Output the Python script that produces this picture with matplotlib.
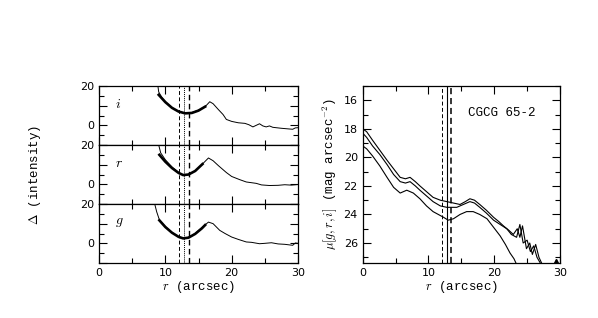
import numpy as np
import matplotlib
matplotlib.use("Agg")
import matplotlib.pyplot as plt
from matplotlib.ticker import MultipleLocator, FuncFormatter

plt.rcParams["mathtext.fontset"] = "cm"

# --- left panels: residual intensity profiles (thin) and fits (thick)
i_r = [8.8, 9.0, 9.5, 10, 11, 12, 13, 14, 15, 16, 16.7, 17.2, 18, 18.7, 19.2, 20, 21, 22,
       22.6, 23.2, 23.7, 24.2, 24.7, 25.2, 25.7, 26.2, 26.7, 27.5, 28.5, 29.2, 29.6, 30]
i_d = [22, 17, 14, 12, 9, 7, 6.2, 6.5, 7.7, 9.5, 12, 11, 8, 5.5, 3, 2, 1.3, 1,
       0.3, -0.8, 0, 0.8, -0.3, -0.8, -0.3, -1.0, -1.2, -1.5, -1.8, -2.0, -1.3, -1.2]
i_fit_r = [9.0, 10, 11, 12, 13, 14, 15, 16]
i_fit = [15.5, 11.8, 8.9, 7.0, 6.1, 6.3, 7.5, 9.5]

r_r = [9.0, 9.3, 10, 11, 12, 12.7, 13.5, 14.5, 15.5, 16.5, 17.2, 18, 19.2, 20, 21.2, 22.2,
       23.7, 24.5, 25.7, 27, 28, 29, 30]
r_d = [20, 16, 12.5, 8.8, 6.0, 4.7, 5.0, 6.8, 10, 13.4, 12, 9.5, 6, 4, 2.4, 1.2,
       0.5, -0.3, -0.6, -0.5, -0.2, -0.4, -0.1]
r_fit_r = [9.1, 10, 11, 12, 12.7, 13.5, 14.5, 15.6]
r_fit = [15, 11.5, 8.3, 5.8, 4.7, 5.0, 6.8, 10.3]

g_r = [8.4, 8.7, 9.1, 10, 11, 12, 12.7, 13.5, 14.5, 15.5, 16.5, 17.2, 18.2, 19, 20, 21,
       22.2, 23, 24.2, 25, 26, 27, 28, 29.2, 29.6, 30]
g_d = [20, 16, 12, 8.5, 5.5, 3.3, 2.5, 3.0, 5.0, 8, 10.8, 10, 6.6, 5, 3.2, 2,
       0.7, 0.5, -0.2, 0, 0.3, -0.3, -0.5, -1, 0.2, 0]
g_fit_r = [9.1, 10, 11, 12, 12.7, 13.5, 14.5, 15.5, 16]
g_fit = [11.7, 8.3, 5.4, 3.3, 2.5, 2.9, 4.8, 7.6, 9.3]

bands = ["i", "r", "g"]
band_data = [(i_r, i_d, i_fit_r, i_fit), (r_r, r_d, r_fit_r, r_fit), (g_r, g_d, g_fit_r, g_fit)]

# radii of vertical markers
r_lines = [12.1, 12.8, 13.5]

# --- right panel: surface brightness profiles
mu_i_r = [0, 0.6, 1.5, 2.6, 3.7, 4.7, 5.7, 6.5, 7.2, 8, 8.7, 9.7, 10.7, 11.8, 12.8, 13.8, 14.8,
          15.6, 16.3, 17, 17.8, 18.8, 19.9, 20.7, 21.4, 22.2, 22.9, 23.5, 23.9, 24.3, 24.9,
          25.4, 25.8, 26.3, 26.8, 27.2]
mu_i = [18.0, 18.2, 18.8, 19.5, 20.2, 20.8, 21.4, 21.5, 21.4, 21.7, 22.0, 22.4, 22.8, 23.0,
        23.1, 23.2, 23.3, 23.1, 22.9, 23.0, 23.3, 23.7, 24.2, 24.5, 24.8, 25.1, 25.4, 25.0,
        25.6, 24.8, 26.4, 26.0, 26.8, 26.1, 27.0, 27.4]
mu_r_r = [0, 0.6, 1.5, 2.6, 3.7, 4.7, 5.7, 6.5, 7.2, 8, 8.7, 9.7, 10.7, 11.8, 12.8, 13.8, 14.3,
          15.3, 16.3, 17, 17.8, 18.8, 19.9, 20.9, 21.9, 22.6, 23.4, 23.9, 24.4, 25, 25.5, 26,
          26.5, 27]
mu_r = [18.3, 18.6, 19.2, 19.8, 20.5, 21.2, 21.7, 21.8, 21.7, 22.0, 22.3, 22.7, 23.1, 23.4,
        23.5, 23.5, 23.5, 23.3, 23.1, 23.2, 23.5, 23.9, 24.4, 24.7, 25.0, 25.4, 25.6, 24.7,
        26.0, 25.8, 26.6, 26.2, 27.0, 27.4]
mu_g_r = [0, 0.6, 1.5, 2.6, 3.7, 4.7, 5.7, 6.7, 7.7, 8.7, 9.7, 10.7, 11.5, 12.3, 13.0, 13.8,
          14.8, 15.8, 16.8, 17.8, 18.9, 19.9, 20.9, 21.7, 22.4, 23.0, 23.4]
mu_g = [19.2, 19.4, 19.9, 20.6, 21.4, 22.1, 22.5, 22.3, 22.5, 22.9, 23.4, 23.8, 24.0, 24.2,
        24.4, 24.3, 24.0, 23.8, 23.8, 24.0, 24.3, 24.9, 25.5, 26.1, 26.7, 27.1, 27.5]

galaxy = "CGCG 65-2"

tick_font = "DejaVu Sans"
label_font = "Liberation Mono"
fs = 8


def style_axes(ax):
    ax.tick_params(which="both", direction="in", top=True, right=True, labelsize=fs,
                   width=0.8)
    ax.tick_params(which="major", length=6)
    ax.tick_params(which="minor", length=3.5)
    for lab in ax.get_xticklabels() + ax.get_yticklabels():
        lab.set_family(tick_font)
    for s in ax.spines.values():
        s.set_linewidth(0.9)


fig = plt.figure(figsize=(5.98, 3.18), dpi=100)

W, H = 598.0, 318.0
lx0, lx1 = 99, 298
tops = [86, 145, 204]
ph = 59

left_axes = []
for k, (band, (dr, dd, fr, fd)) in enumerate(zip(bands, band_data)):
    ax = fig.add_axes([lx0 / W, (H - tops[k] - ph) / H, (lx1 - lx0) / W, ph / H])
    ax.plot(dr, dd, color="black", lw=0.7)
    ax.plot(fr, fd, color="black", lw=1.9)
    ax.axvline(r_lines[0], color="black", lw=0.7, ls=(0, (4, 2.5)))
    ax.axvline(r_lines[1], color="black", lw=0.7, ls=(0, (1, 1)))
    ax.axvline(r_lines[2], color="black", lw=1.0, ls=(0, (4, 2.5)))
    ax.text(2.4, 11, "$" + band + "$", fontsize=10, ha="left", va="center")
    ax.set_xlim(0, 30)
    ax.set_ylim(-10, 20)
    ax.xaxis.set_major_locator(MultipleLocator(10))
    ax.xaxis.set_minor_locator(MultipleLocator(5))
    ax.yaxis.set_major_locator(MultipleLocator(10))
    ax.yaxis.set_minor_locator(MultipleLocator(5))
    ax.yaxis.set_major_formatter(FuncFormatter(lambda v, p: "%d" % v if v in (0, 20) else ""))
    if k < 2:
        ax.tick_params(labelbottom=False)
    style_axes(ax)
    left_axes.append(ax)

left_axes[2].set_xlabel("$r$ (arcsec)", fontsize=fs + 1, family=label_font, labelpad=1)
fig.text(35 / W, 0.5 * ((H - 86) + (H - 263)) / H, r"$\Delta$ (intensity)", rotation=90,
         ha="center", va="center", fontsize=fs + 1, family=label_font)

# right panel
rx0, rx1 = 362.7, 560
axr = fig.add_axes([rx0 / W, (H - 263) / H, (rx1 - rx0) / W, (263 - 86) / H])
axr.plot(mu_i_r, mu_i, color="black", lw=0.8)
axr.plot(mu_r_r, mu_r, color="black", lw=0.8)
axr.plot(mu_g_r, mu_g, color="black", lw=0.8)
axr.plot([29.4], [27.25], marker="^", color="black", ms=3, ls="none")
axr.axvline(r_lines[0], color="black", lw=0.7, ls=(0, (4, 2.5)))
axr.axvline(r_lines[1], color="black", lw=0.8)
axr.axvline(r_lines[2], color="black", lw=1.1, ls=(0, (4, 2.5)))
axr.text(16.0, 16.9, galaxy, fontsize=fs + 1, family=label_font, ha="left", va="center")
axr.set_xlim(0, 30)
axr.set_ylim(27.4, 15.0)
axr.xaxis.set_major_locator(MultipleLocator(10))
axr.xaxis.set_minor_locator(MultipleLocator(5))
axr.yaxis.set_major_locator(MultipleLocator(2))
axr.yaxis.set_minor_locator(MultipleLocator(1))
style_axes(axr)
axr.set_xlabel("$r$ (arcsec)", fontsize=fs + 1, family=label_font, labelpad=1)
axr.set_ylabel(r"$\mu[g,r,i]$ (mag arcsec$^{-2}$)", fontsize=fs + 1, family=label_font,
               labelpad=3)

fig.savefig("out.png", dpi=100)
